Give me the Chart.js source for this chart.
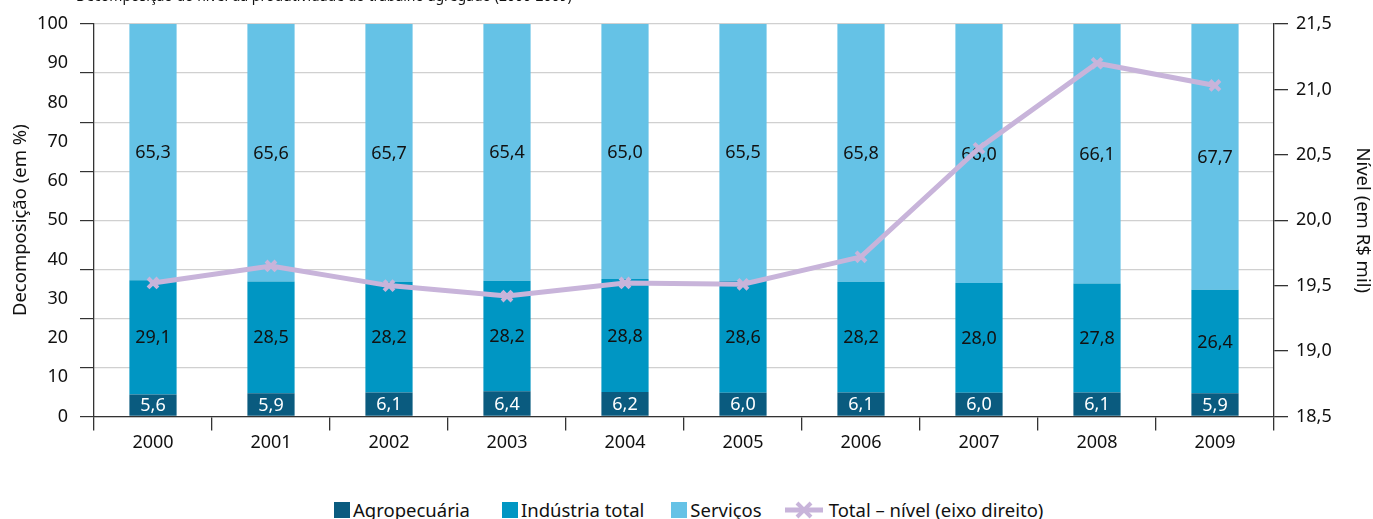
<!DOCTYPE html>
<html lang="pt-BR">
<head>
<meta charset="utf-8">
<title>Decomposição da produtividade</title>
<script src="https://cdn.jsdelivr.net/npm/chart.js@4.4.1/dist/chart.umd.min.js"></script>
<style>
  body { margin: 0; background: #fff; overflow: hidden; }
  #wrap { position: relative; width: 1373px; height: 519px; overflow: hidden; font-family: "Noto Sans", sans-serif; }
  #chart-box { position: absolute; left: 0; top: 0; width: 1373px; height: 470px; }
  #legend { position: absolute; left: 334px; top: 499px; display: flex; align-items: center; font-size: 18.5px; line-height: 22px; color: #111; white-space: nowrap; }
  #legend .item { display: flex; align-items: center; }
  #legend .swatch { width: 16px; height: 16px; margin-right: 3px; }
  #legend svg { margin-right: 6px; }
</style>
</head>
<body>
<div id="wrap">
  <div id="chart-box"><canvas id="prodChart"></canvas></div>
  <div id="legend">
    <span class="item" style="margin-right:32px"><span class="swatch" style="background:#0a5b7f"></span>Agropecuária</span>
    <span class="item" style="margin-right:27px"><span class="swatch" style="background:#0096c3"></span>Indústria total</span>
    <span class="item" style="margin-right:23px"><span class="swatch" style="background:#65c2e6"></span>Serviços</span>
    <span class="item">
      <svg width="38" height="18" viewBox="0 0 38 18">
        <line x1="0" y1="9" x2="38" y2="9" stroke="#c8b4da" stroke-width="5"/>
        <line x1="12" y1="2" x2="26" y2="16" stroke="#c8b4da" stroke-width="4"/>
        <line x1="12" y1="16" x2="26" y2="2" stroke="#c8b4da" stroke-width="4"/>
      </svg>Total – nível (eixo direito)</span>
  </div>
</div>
<script>
const FONT = "'Noto Sans', sans-serif";

const years = ["2000", "2001", "2002", "2003", "2004", "2005", "2006", "2007", "2008", "2009"];
const agropecuaria = [5.6, 5.9, 6.1, 6.4, 6.2, 6.0, 6.1, 6.0, 6.1, 5.9];
const industria = [29.1, 28.5, 28.2, 28.2, 28.8, 28.6, 28.2, 28.0, 27.8, 26.4];
const servicos = [65.3, 65.6, 65.7, 65.4, 65.0, 65.5, 65.8, 66.0, 66.1, 67.7];
// nível total em R$ mil (eixo direito)
const nivelTotal = [19.52, 19.65, 19.50, 19.42, 19.52, 19.51, 19.72, 20.55, 21.20, 21.03];

const pctTicks = [0, 10, 20, 30, 40, 50, 60, 70, 80, 90, 100];
const gridTicks = [0, 12.5, 25, 37.5, 50, 62.5, 75, 87.5, 100];
const nivelTicks = [18.5, 19.0, 19.5, 20.0, 20.5, 21.0, 21.5];

const fmt = (v) => v.toFixed(1).replace(".", ",");

// valores escritos no meio de cada segmento das barras
const barLabels = {
  id: "barLabels",
  beforeDatasetDraw(chart, args) {
    if (chart.data.datasets[args.index].type !== "line") return;
    const ctx = chart.ctx;
    ctx.save();
    ctx.font = "18px " + FONT;
    ctx.textAlign = "center";
    ctx.textBaseline = "middle";
    chart.data.datasets.forEach((ds, i) => {
      if (ds.type === "line") return;
      chart.getDatasetMeta(i).data.forEach((bar, j) => {
        ctx.fillStyle = i === 0 ? "#fff" : "#111";
        ctx.fillText(fmt(ds.data[j]), bar.x, (bar.y + bar.base) / 2 + 1);
      });
    });
    ctx.restore();
  },
};

// título do gráfico, quase todo acima da borda
const topTitle = {
  id: "topTitle",
  afterDraw(chart) {
    const ctx = chart.ctx;
    ctx.save();
    ctx.font = "14px " + FONT;
    ctx.fillStyle = "#111";
    ctx.textBaseline = "alphabetic";
    ctx.fillText("Decomposição do nível da produtividade do trabalho agregado (2000-2009)", 76, 0.5);
    ctx.restore();
  },
};

const ctx = document.getElementById("prodChart").getContext("2d");
new Chart(ctx, {
  data: {
    labels: years,
    datasets: [
      { type: "bar", label: "Agropecuária", data: agropecuaria, backgroundColor: "#0a5b7f", yAxisID: "y", order: 1 },
      { type: "bar", label: "Indústria total", data: industria, backgroundColor: "#0096c3", yAxisID: "y", order: 1 },
      { type: "bar", label: "Serviços", data: servicos, backgroundColor: "#65c2e6", yAxisID: "y", order: 1 },
      {
        type: "line",
        label: "Total – nível (eixo direito)",
        data: nivelTotal,
        yAxisID: "y1",
        order: 0,
        borderColor: "#c8b4da",
        borderWidth: 5,
        tension: 0,
        pointStyle: "crossRot",
        pointRadius: 7,
        pointBorderWidth: 4,
        pointBorderColor: "#c8b4da",
        pointBackgroundColor: "#c8b4da",
      },
    ],
  },
  options: {
    responsive: true,
    maintainAspectRatio: false,
    animation: false,
    layout: { padding: { top: 24, left: 0, right: 0, bottom: 14 } },
    datasets: { bar: { categoryPercentage: 1, barPercentage: 0.4 } },
    plugins: { legend: { display: false }, tooltip: { enabled: false } },
    scales: {
      x: {
        stacked: true,
        grid: { offset: true, drawOnChartArea: false, drawTicks: true, tickLength: 14, color: "#333", lineWidth: 1.3 },
        border: { color: "#333", width: 1.3 },
        ticks: { font: { size: 18, family: FONT }, color: "#111", padding: 2 },
      },
      y: {
        stacked: true,
        position: "left",
        weight: 0,
        min: 0,
        max: 100,
        afterBuildTicks: (s) => { s.ticks = gridTicks.map((v) => ({ value: v })); },
        afterFit: (s) => { s.width = 14; },
        ticks: { display: false },
        grid: { color: "#d0d0d0", lineWidth: 1.2, tickColor: "#333", tickLength: 14, drawTicks: true },
        border: { color: "#333", width: 1.3 },
      },
      yLab: {
        position: "left",
        weight: 1,
        min: 0,
        max: 100,
        afterBuildTicks: (s) => { s.ticks = pctTicks.map((v) => ({ value: v })); },
        afterFit: (s) => { s.width = 80; },
        grid: { display: false, drawTicks: false },
        border: { display: false },
        ticks: { font: { size: 18, family: FONT }, color: "#111", padding: 12 },
        title: {
          display: true,
          text: "Decomposição (em %)",
          font: { size: 18.5, family: FONT },
          color: "#111",
          padding: { top: 10, bottom: 4 },
        },
      },
      y1: {
        position: "right",
        min: 18.5,
        max: 21.5,
        afterBuildTicks: (s) => { s.ticks = nivelTicks.map((v) => ({ value: v })); },
        afterFit: (s) => { s.width = 99; },
        grid: { drawOnChartArea: false, drawTicks: true, tickLength: 14, color: "#333", lineWidth: 1.3 },
        border: { color: "#333", width: 1.3 },
        ticks: { font: { size: 18, family: FONT }, color: "#111", padding: 8, callback: (v) => fmt(v) },
        title: {
          display: true,
          text: "Nível (em R$ mil)",
          font: { size: 18.5, family: FONT },
          color: "#111",
          padding: { top: 0, bottom: 18 },
        },
      },
    },
  },
  plugins: [barLabels, topTitle],
});
</script>
</body>
</html>
